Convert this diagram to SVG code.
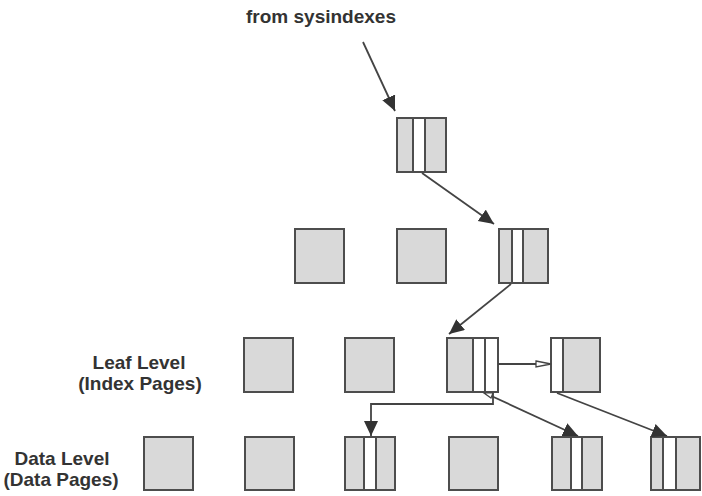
<svg xmlns="http://www.w3.org/2000/svg" width="702" height="496" viewBox="0 0 702 496">
  <style>
    .page { fill: #d9d9d9; stroke: #4d4d4d; stroke-width: 2; }
    .slot { fill: #ffffff; stroke: #4d4d4d; stroke-width: 2; }
    .link { fill: none; stroke: #444444; stroke-width: 1.8; }
    .label { font-family: "Liberation Sans", Arial, sans-serif; font-weight: bold; font-size: 19px; fill: #333333; text-anchor: middle; }
  </style>
  <defs>
    <marker id="head" markerUnits="userSpaceOnUse" markerWidth="17" markerHeight="15" refX="15" refY="7" orient="auto">
      <path d="M0,0 L15,7 L0,14 Z" fill="#333333"/>
    </marker>
    <marker id="openhead" markerUnits="userSpaceOnUse" markerWidth="18" markerHeight="10" refX="16" refY="4" orient="auto">
      <path d="M1,1 L16,4 L1,7 Z" fill="#ffffff" stroke="#444444" stroke-width="1.3"/>
    </marker>
  </defs>

  <rect width="702" height="496" fill="#ffffff"/>

  <!-- level labels -->
  <g id="label-source">
    <text class="label" x="321" y="23">from sysindexes</text>
  </g>
  <g id="label-leaf">
    <text class="label" x="139" y="369">Leaf Level</text>
    <text class="label" x="140" y="390">(Index Pages)</text>
  </g>
  <g id="label-data">
    <text class="label" x="62" y="465">Data Level</text>
    <text class="label" x="61" y="486">(Data Pages)</text>
  </g>

  <!-- root page -->
  <g id="root">
    <rect class="page" x="397" y="118" width="49" height="54"/>
    <rect class="slot" x="413" y="118" width="12" height="54"/>
  </g>

  <!-- intermediate level -->
  <g id="mid-1"><rect class="page" x="295" y="229" width="49" height="54"/></g>
  <g id="mid-2"><rect class="page" x="397" y="229" width="49" height="54"/></g>
  <g id="mid-3">
    <rect class="page" x="499" y="229" width="49" height="54"/>
    <rect class="slot" x="512" y="229" width="11" height="54"/>
  </g>

  <!-- leaf level -->
  <g id="leaf-1"><rect class="page" x="244" y="338" width="49" height="54"/></g>
  <g id="leaf-2"><rect class="page" x="345" y="338" width="49" height="54"/></g>
  <g id="leaf-3">
    <rect class="page" x="447" y="338" width="51" height="54"/>
    <rect class="slot" x="473" y="338" width="12" height="54"/>
    <rect class="slot" x="485" y="338" width="13" height="54"/>
  </g>
  <g id="leaf-4">
    <rect class="page" x="551" y="338" width="49" height="54"/>
    <rect class="slot" x="551" y="338" width="12" height="54"/>
  </g>

  <!-- data level -->
  <g id="data-1"><rect class="page" x="144" y="437" width="49" height="53"/></g>
  <g id="data-2"><rect class="page" x="245" y="437" width="49" height="53"/></g>
  <g id="data-3">
    <rect class="page" x="345" y="437" width="50" height="53"/>
    <rect class="slot" x="364" y="437" width="12" height="53"/>
  </g>
  <g id="data-4"><rect class="page" x="449" y="437" width="49" height="53"/></g>
  <g id="data-5">
    <rect class="page" x="552" y="437" width="50" height="53"/>
    <rect class="slot" x="571" y="437" width="11" height="53"/>
  </g>
  <g id="data-6">
    <rect class="page" x="651" y="437" width="49" height="53"/>
    <rect class="slot" x="663" y="437" width="13" height="53"/>
  </g>

  <!-- pointers -->
  <g id="connectors">
    <line class="link" x1="363" y1="42" x2="395" y2="111" marker-end="url(#head)"/>
    <line class="link" x1="422" y1="173" x2="494" y2="224" marker-end="url(#head)"/>
    <line class="link" x1="511" y1="284" x2="449" y2="334" marker-end="url(#head)"/>
    <line class="link" x1="498" y1="364" x2="551" y2="364" marker-end="url(#openhead)"/>
    <path class="link" d="M493,393 V404 H371 V436" marker-end="url(#head)"/>
    <line class="link" x1="487" y1="394" x2="578" y2="436" marker-end="url(#head)"/>
    <line class="link" x1="557" y1="393" x2="667" y2="436" marker-end="url(#head)"/>
    <polygon points="484,393 493,393 491,398" fill="#ffffff" stroke="#444444" stroke-width="1.2"/>
  </g>
</svg>
